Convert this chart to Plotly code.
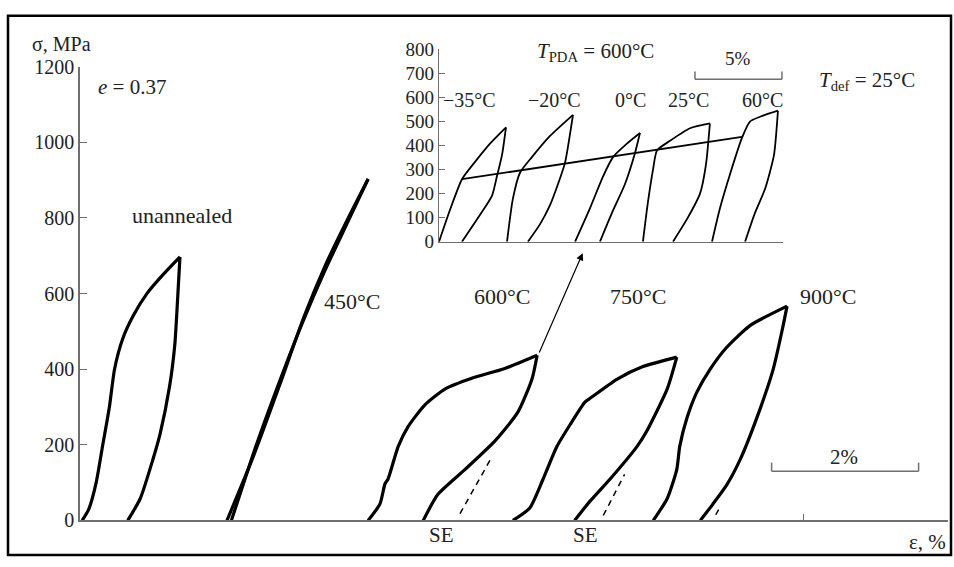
import plotly.graph_objects as go

# ---------------- main chart data (strain %, stress MPa) ----------------
unann_load_x = [0.03, 0.12, 0.22, 0.31, 0.40, 0.47, 0.58, 0.72, 0.91, 1.13, 1.36]
unann_load_y = [0, 30, 100, 200, 300, 400, 480, 540, 600, 650, 697]
unann_unl_x = [1.36, 1.33, 1.29, 1.22, 1.09, 0.99, 0.82, 0.65]
unann_unl_y = [697, 592, 465, 356, 229, 160, 58, 0]

t450_load_x = [2.00, 2.36, 2.72, 3.05, 3.35, 3.65, 3.92]
t450_load_y = [0, 170, 360, 540, 680, 800, 903]
t450_unl_x = [3.92, 3.62, 3.33, 3.02, 2.72, 2.40, 2.06]
t450_unl_y = [903, 780, 660, 520, 370, 200, 0]

t600_load_x = [3.92, 4.08, 4.15, 4.19, 4.33, 4.46, 4.69, 4.97, 5.33, 5.78, 6.22]
t600_load_y = [0, 43, 97, 109, 196, 247, 305, 348, 376, 402, 437]
t600_unl_x = [6.22, 6.15, 5.96, 5.65, 5.24, 4.87, 4.67]
t600_unl_y = [437, 374, 287, 211, 135, 69, 0]
t600_se_x = [5.17, 5.61]
t600_se_y = [18, 170]

t750_load_x = [5.89, 6.12, 6.30, 6.49, 6.67, 6.87, 6.94, 7.31, 7.66, 8.12]
t750_load_y = [0, 33, 109, 196, 254, 313, 323, 374, 407, 432]
t750_unl_x = [8.12, 7.99, 7.71, 7.58, 7.21, 6.94, 6.73]
t750_unl_y = [432, 348, 236, 196, 109, 51, 0]
t750_se_x = [7.12, 7.41]
t750_se_y = [13, 122]

t900_load_x = [7.80, 7.99, 8.12, 8.16, 8.26, 8.39, 8.57, 8.80, 9.12, 9.62]
t900_load_y = [0, 58, 135, 196, 272, 338, 399, 458, 516, 567]
t900_unl_x = [9.62, 9.56, 9.43, 9.21, 8.98, 8.80, 8.61, 8.44]
t900_unl_y = [567, 509, 399, 272, 160, 94, 43, 0]
t900_se_x = [8.65, 8.71]
t900_se_y = [15, 36]

main_yticks = [0, 200, 400, 600, 800, 1000, 1200]
main_xticks = [9.84, 11.81]

# ---------------- inset data (strain %, stress MPa) ----------------
m35_load_x = [0.0, 0.63, 1.32, 2.07, 2.93, 3.85]
m35_load_y = [0, 132, 260, 332, 408, 476]
m35_unl_x = [3.85, 3.62, 3.33, 3.05, 2.36, 1.32]
m35_unl_y = [476, 360, 272, 192, 112, 0]

m20_load_x = [3.91, 4.25, 4.66, 5.34, 6.38, 7.70]
m20_load_y = [0, 180, 288, 352, 440, 528]
m20_unl_x = [7.70, 7.24, 6.84, 6.38, 5.80, 5.11]
m20_unl_y = [528, 328, 240, 152, 72, 0]

p0_load_x = [7.82, 8.68, 9.43, 10.00, 10.80, 11.55]
p0_load_y = [0, 140, 272, 352, 408, 452]
p0_unl_x = [11.55, 11.26, 10.69, 9.94, 9.25]
p0_unl_y = [452, 368, 240, 120, 0]

p25_load_x = [11.72, 12.00, 12.30, 12.53, 13.28, 14.43, 15.57]
p25_load_y = [0, 160, 300, 380, 420, 472, 492]
p25_unl_x = [15.57, 15.34, 15.00, 14.30, 13.45]
p25_unl_y = [492, 320, 200, 100, 0]

p60_load_x = [15.69, 16.15, 16.72, 17.41, 17.87, 18.45, 19.48]
p60_load_y = [0, 140, 280, 432, 500, 520, 545]
p60_unl_x = [19.48, 19.25, 18.74, 18.16, 17.59]
p60_unl_y = [545, 360, 220, 120, 0]

crit_x = [1.32, 17.41]
crit_y = [260, 436]

inset_yticks = [0, 100, 200, 300, 400, 500, 600, 700, 800]
inset_labels = ["\u221235\u00b0C", "\u221220\u00b0C", "0\u00b0C", "25\u00b0C", "60\u00b0C"]
inset_label_x = [1.78, 6.61, 11.03, 14.31, 18.62]

main_labels = ["unannealed", "450\u00b0C", "600\u00b0C", "750\u00b0C", "900\u00b0C"]
main_label_x = [1.39, 3.70, 5.74, 7.59, 10.18]
main_label_y = [806, 580, 592, 592, 592]

W, H = 954, 567
FONT = "Liberation Serif"
TXT = "#222222"
AX = "#6f6f6f"

fig = go.Figure()

def add_curve(x, y, xa="x", ya="y", width=3.2, dash="solid"):
    fig.add_trace(go.Scatter(x=x, y=y, mode="lines", xaxis=xa, yaxis=ya,
                             line=dict(color="black", width=width, dash=dash, shape="spline", smoothing=0.6),
                             hoverinfo="skip", showlegend=False))

for lx, ly, ux, uy in [(unann_load_x, unann_load_y, unann_unl_x, unann_unl_y),
                       (t450_load_x, t450_load_y, t450_unl_x, t450_unl_y),
                       (t600_load_x, t600_load_y, t600_unl_x, t600_unl_y),
                       (t750_load_x, t750_load_y, t750_unl_x, t750_unl_y),
                       (t900_load_x, t900_load_y, t900_unl_x, t900_unl_y)]:
    add_curve(lx, ly)
    add_curve(ux, uy)

for sx, sy in [(t600_se_x, t600_se_y), (t750_se_x, t750_se_y), (t900_se_x, t900_se_y)]:
    fig.add_trace(go.Scatter(x=sx, y=sy, mode="lines", xaxis="x", yaxis="y",
                             line=dict(color="black", width=1.5, dash="6px,5px"),
                             hoverinfo="skip", showlegend=False))

for lx, ly, ux, uy in [(m35_load_x, m35_load_y, m35_unl_x, m35_unl_y),
                       (m20_load_x, m20_load_y, m20_unl_x, m20_unl_y),
                       (p0_load_x, p0_load_y, p0_unl_x, p0_unl_y),
                       (p25_load_x, p25_load_y, p25_unl_x, p25_unl_y),
                       (p60_load_x, p60_load_y, p60_unl_x, p60_unl_y)]:
    add_curve(lx, ly, "x2", "y2", width=1.8)
    add_curve(ux, uy, "x2", "y2", width=1.8)

fig.add_trace(go.Scatter(x=crit_x, y=crit_y, mode="lines", xaxis="x2", yaxis="y2",
                         line=dict(color="black", width=1.8), hoverinfo="skip", showlegend=False))

ann = []
def text(x, y, s, xref="x", yref="y", size=21):
    ann.append(dict(x=x, y=y, xref=xref, yref=yref, text=s, showarrow=False,
                    xanchor="center", yanchor="middle",
                    font=dict(family=FONT, size=size, color=TXT)))

def ptext(px, py, s, size=21):
    text(px / W, 1 - py / H, s, "paper", "paper", size)

for s, x, y in zip(main_labels, main_label_x, main_label_y):
    text(x, y, s, size=22)
ptext(441, 545, "SE")
ptext(585, 545, "SE")
ptext(62, 34, "\u03c3, MPa", size=20)
ptext(927, 552, "\u03b5, %")
text(0.71, 1147, "<i>e</i> = 0.37")
text(10.39, 168, "2%")
text(10.71, 1162, "<i>T</i><sub>def</sub> = 25\u00b0C", size=21)

for s, x in zip(inset_labels, inset_label_x):
    text(x, 588, s, "x2", "y2", size=20)
text(9.02, 790, "<i>T</i><sub>PDA</sub> = 600\u00b0C", "x2", "y2", size=21)
text(17.21, 764, "5%", "x2", "y2", size=19)

# arrow from 600 C peak to inset
ann.append(dict(x=6.84, y=707, xref="x", yref="y", ax=6.24, ay=440, axref="x", ayref="y",
                showarrow=True, arrowhead=2, arrowsize=1.2, arrowwidth=1.2, arrowcolor="black", text=""))

shapes = []
# 2% scale bar (main axes)
sb0, sblen, sby, sbt = 9.41, 2.0, 130, 153
shapes += [dict(type="line", xref="x", yref="y", x0=sb0, x1=sb0 + sblen, y0=sby, y1=sby, line=dict(color=AX, width=1.5)),
           dict(type="line", xref="x", yref="y", x0=sb0, x1=sb0, y0=sby, y1=sbt, line=dict(color=AX, width=1.5)),
           dict(type="line", xref="x", yref="y", x0=sb0 + sblen, x1=sb0 + sblen, y0=sby, y1=sbt, line=dict(color=AX, width=1.5))]
# 5% scale bar (inset axes)
ib0, iblen, iby, ibt = 14.71, 5.0, 676, 708
shapes += [dict(type="line", xref="x2", yref="y2", x0=ib0, x1=ib0 + iblen, y0=iby, y1=iby, line=dict(color=AX, width=1.5)),
           dict(type="line", xref="x2", yref="y2", x0=ib0, x1=ib0, y0=iby, y1=ibt, line=dict(color=AX, width=1.5)),
           dict(type="line", xref="x2", yref="y2", x0=ib0 + iblen, x1=ib0 + iblen, y0=iby, y1=ibt, line=dict(color=AX, width=1.5))]
# frame
shapes.append(dict(type="rect", xref="paper", yref="paper", x0=8 / W, x1=951 / W, y0=1 - 566 / H, y1=1 - 5 / H,
                   line=dict(color="black", width=2.5)))

fig.update_layout(
    width=W, height=H, margin=dict(l=0, r=0, t=0, b=0),
    paper_bgcolor="white", plot_bgcolor="white", showlegend=False,
    font=dict(family=FONT, color=TXT),
    xaxis=dict(domain=[80 / W, 948 / W], range=[0, 11.81], showline=True, linecolor=AX, linewidth=1.5,
               ticks="inside", tickvals=main_xticks, ticklen=7, tickcolor=AX, showticklabels=False,
               showgrid=False, zeroline=False, fixedrange=True),
    yaxis=dict(domain=[1 - 530 / H, 1 - 58 / H], range=[0, 1200], showline=True, linecolor=AX, linewidth=1.5,
               ticks="inside", tickvals=main_yticks, ticklen=7, tickcolor=AX,
               tickfont=dict(family=FONT, size=20, color=TXT), showgrid=False, zeroline=False),
    xaxis2=dict(domain=[439 / W, 783 / W], range=[0, 19.77], anchor="y2", showline=True, linecolor=AX,
                linewidth=1.3, ticks="", showticklabels=False, showgrid=False, zeroline=False),
    yaxis2=dict(domain=[1 - 240 / H, 1 - 40 / H], range=[0, 800], anchor="x2", showline=True, linecolor=AX,
                linewidth=1.3, ticks="inside", tickvals=inset_yticks, ticklen=6, tickcolor=AX,
                tickfont=dict(family=FONT, size=19, color=TXT), showgrid=False, zeroline=False),
    annotations=ann, shapes=shapes,
)

fig.write_html("out.html")
